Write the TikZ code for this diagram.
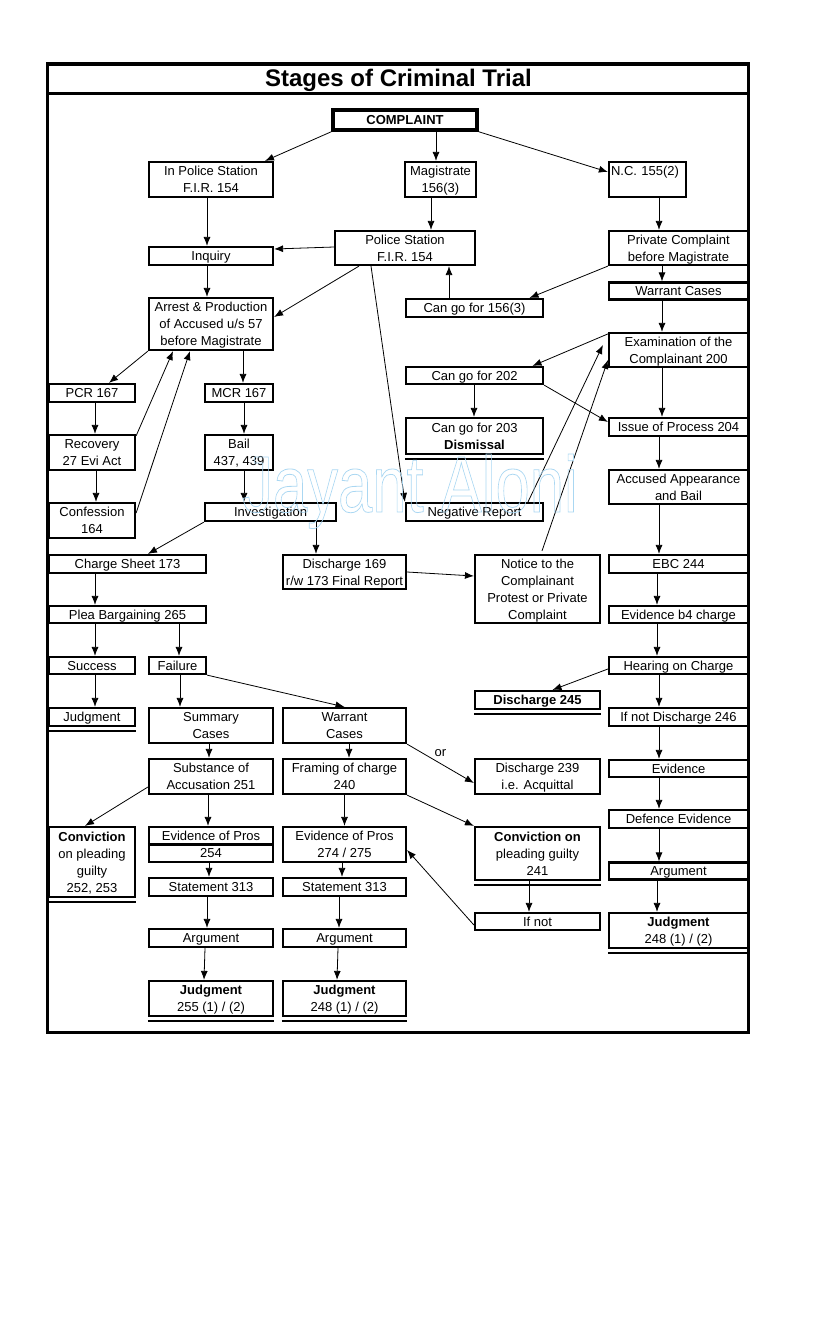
\documentclass[tikz,border=0pt]{standalone}
\usepackage{fontspec}
\setmainfont{Liberation Sans}
\usetikzlibrary{arrows.meta}

\definecolor{wmark}{RGB}{170,215,242}

\tikzset{
  box/.style={draw, line width=2.2pt, fill=white, inner sep=0pt, align=center,
    text depth=-2pt, font=\fontsize{13}{17}\selectfont},
  sz/.style 2 args={minimum width=#1pt, minimum height=#2pt},
  footline/.style={line width=2.2pt},
  arr/.style={-{Latex[length=9pt,width=7pt]}, line width=0.8pt},
}

\begin{document}
\begin{tikzpicture}[x=1pt,y=-1pt]
    \useasboundingbox (0,0) rectangle (816,1344);
    % Frame
    \draw[line width=3.2pt] (47.5,64) rectangle (748.5,1032.5);
    \draw[line width=3.2pt] (47.5,93.5) -- (748.5,93.5);
    % Text Node
    \node[font=\fontsize{24}{28}\selectfont\bfseries] (ttl) at (398.5,80) {Stages of Criminal Trial};

    % Text Node
    \node[box, line width=3.5pt, sz={144}{20}, font=\fontsize{13}{17}\selectfont\bfseries] (cmp) at (405,120) {COMPLAINT};
    % Text Node
    \node[box, sz={124}{35}] (ips) at (211,179.5) {In Police Station\\F.I.R. 154};
    % Text Node
    \node[box, sz={71}{35}] (mag) at (440.5,179.5) {Magistrate\\156(3)};
    % Text Node
    \node[box, sz={77}{35}, text width=73pt, align=left, text depth={}] (nc) at (647.5,179.5) {N.C. 155(2)\\ \mbox{}};
    % Text Node
    \node[box, sz={124}{18}] (inq) at (211,256) {Inquiry};
    % Text Node
    \node[box, sz={140}{34}] (ps) at (405,248) {Police Station\\F.I.R. 154};
    % Text Node
    \node[box, sz={139}{34}] (pc) at (678.5,248) {Private Complaint\\before Magistrate};
    % Text Node
    \node[box, sz={139}{17}] (wc) at (678.5,291) {Warrant Cases};
    % Text Node
    \node[box, sz={137}{18}] (cg156) at (474.5,308) {Can go for 156(3)};
    % Text Node
    \node[box, sz={124}{52}] (arst) at (211,324) {Arrest \& Production\\of Accused u/s 57\\before Magistrate};
    % Text Node
    \node[box, sz={139}{34}] (exam) at (678.5,350) {Examination of the\\Complainant 200};
    % Text Node
    \node[box, sz={137}{17}] (cg202) at (474.5,375.5) {Can go for 202};
    % Text Node
    \node[box, sz={86}{18}] (pcr) at (92,393) {PCR 167};
    % Text Node
    \node[box, sz={68}{18}] (mcr) at (239,393) {MCR 167};
    % Text Node
    \node[box, sz={137}{36}] (cg203) at (474.5,436) {Can go for 203\\\textbf{Dismissal}};
    % Text Node
    \node[box, sz={139}{18}] (iop) at (678.5,427) {Issue of Process 204};
    % Text Node
    \node[box, sz={86}{35}] (rec) at (92,452.5) {Recovery\\27 Evi Act};
    % Text Node
    \node[box, sz={68}{35}] (bail) at (239,452.5) {Bail\\437, 439};
    % Text Node
    \node[box, sz={139}{34}] (acc) at (678.5,487) {Accused Appearance\\and Bail};
    % Text Node
    \node[box, sz={86}{35}] (con) at (92,520.5) {Confession\\164};
    % Text Node
    \node[box, sz={131}{18}] (inv) at (270.5,512) {Investigation};
    % Text Node
    \node[box, sz={137}{18}] (neg) at (474.5,512) {Negative Report};
    % Text Node
    \node[box, sz={157}{18}] (cs) at (127.5,564) {Charge Sheet 173};
    % Text Node
    \node[box, sz={123}{34}] (d169) at (344.5,572) {Discharge 169\\r/w 173 Final Report};
    % Text Node
    \node[box, sz={125}{68}] (notice) at (537.5,589) {Notice to the\\Complainant\\Protest or Private\\Complaint};
    % Text Node
    \node[box, sz={139}{18}] (ebc) at (678.5,564) {EBC 244};
    % Text Node
    \node[box, sz={157}{17}] (pb) at (127.5,614.5) {Plea Bargaining 265};
    % Text Node
    \node[box, sz={139}{17}] (eb4) at (678.5,614.5) {Evidence b4 charge};
    % Text Node
    \node[box, sz={86}{17}] (suc) at (92,665.5) {Success};
    % Text Node
    \node[box, sz={57}{17}] (fail) at (177.5,665.5) {Failure};
    % Text Node
    \node[box, sz={139}{17}] (hoc) at (678.5,665.5) {Hearing on Charge};
    % Text Node
    \node[box, sz={125}{18}, font=\fontsize{13}{17}\selectfont\bfseries] (d245) at (537.5,700) {Discharge 245};
    % Text Node
    \node[box, sz={86}{18}] (jl) at (92,717) {Judgment};
    % Text Node
    \node[box, sz={124}{35}] (sum) at (211,725.5) {Summary\\Cases};
    % Text Node
    \node[box, sz={123}{35}] (wc2) at (344.5,725.5) {Warrant\\Cases};
    % Text Node
    \node[box, sz={139}{18}] (ind) at (678.5,717) {If not Discharge 246};
    % Text Node
    \node[box, sz={124}{35}] (sub) at (211,776.5) {Substance of\\Accusation 251};
    % Text Node
    \node[box, sz={123}{35}] (fr) at (344.5,776.5) {Framing of charge\\240};
    % Text Node
    \node[box, sz={125}{35}] (d239) at (537.5,776.5) {Discharge 239\\i.e. Acquittal};
    % Text Node
    \node[box, sz={139}{17}] (evi) at (678.5,768.5) {Evidence};
    % Text Node
    \node[box, sz={139}{18}] (def) at (678.5,819) {Defence Evidence};
    % Text Node
    \node[box, sz={86}{70}] (cv252) at (92,862) {\textbf{Conviction}\\on pleading\\guilty\\252, 253};
    % Text Node
    \node[box, sz={124}{35}] (ep254) at (211,844.5) {Evidence of Pros\\254};
    \draw[line width=2.2pt] (ep254.west) -- (ep254.east);
    % Text Node
    \node[box, sz={123}{35}] (ep274) at (344.5,844.5) {Evidence of Pros\\274 / 275};
    % Text Node
    \node[box, sz={125}{53}] (cv241) at (537.5,853.5) {\textbf{Conviction on}\\pleading guilty\\241};
    % Text Node
    \node[box, sz={139}{17}] (argr) at (678.5,871) {Argument};
    % Text Node
    \node[box, sz={124}{18}] (st1) at (211,887) {Statement 313};
    % Text Node
    \node[box, sz={123}{18}] (st2) at (344.5,887) {Statement 313};
    % Text Node
    \node[box, sz={125}{17}] (ifn) at (537.5,921.5) {If not};
    % Text Node
    \node[box, sz={139}{35}] (jr) at (678.5,930.5) {\textbf{Judgment}\\248 (1) / (2)};
    % Text Node
    \node[box, sz={124}{18}] (ag1) at (211,938) {Argument};
    % Text Node
    \node[box, sz={123}{18}] (ag2) at (344.5,938) {Argument};
    % Text Node
    \node[box, sz={124}{35}] (j1) at (211,998.5) {\textbf{Judgment}\\255 (1) / (2)};
    % Text Node
    \node[box, sz={123}{35}] (j2) at (344.5,998.5) {\textbf{Judgment}\\248 (1) / (2)};

    % double bottom rule under the closing boxes
    \foreach \n in {cg203,d245,jl,cv252,cv241,jr,j1,j2}
        \draw[footline] ([yshift=-3.8pt]\n.south west) -- ([yshift=-3.8pt]\n.south east);

    % Connectors
    \draw[arr] (cmp.south west) -- ([xshift=54pt]ips.north);
    \draw[arr] ([xshift=31pt]cmp.south) -- ([xshift=31pt]cmp.south |- mag.north);
    \draw[arr] (cmp.south east) -- ([yshift=7.5pt]nc.west);
    \draw[arr] ([xshift=-4pt]ips.south) -- ([xshift=-4pt]ips.south |- inq.north);
    \draw[arr] ([yshift=1pt]ps.west) -- ([yshift=7pt]inq.east);
    \draw[arr] ([xshift=-9.5pt]mag.south) -- ([xshift=-9.5pt]mag.south |- ps.north);
    \draw[arr] ([xshift=11.5pt]nc.south) -- ([xshift=11.5pt]nc.south |- pc.north);
    \draw[arr] (pc.south west) -- ([xshift=55pt]cg156.north);
    \draw[arr] ([xshift=-25.5pt]cg156.north) -- ([xshift=-25.5pt]cg156.north |- ps.south);
    \draw[arr] ([xshift=-16.5pt]pc.south) -- ([xshift=-16.5pt]pc.south |- wc.north);
    \draw[arr] ([xshift=-16.5pt]wc.south) -- ([xshift=-16.5pt]wc.south |- exam.north);
    \draw[arr] ([xshift=-4pt]inq.south) -- ([xshift=-4pt]inq.south |- arst.north);
    \draw[arr] ([xshift=-46pt]ps.south) -- ([yshift=7pt]arst.east);
    \draw[arr] ([xshift=-34pt]ps.south) -- (neg.north west);
    \draw[arr] (arst.south west) -- ([xshift=17pt]pcr.north);
    \draw[arr] ([xshift=32pt]arst.south) -- ([xshift=32pt]arst.south |- mcr.north);
    \draw[arr] ([yshift=-2pt]rec.north east) -- ([xshift=-38pt]arst.south);
    \draw[arr] ([yshift=7.5pt]con.east) -- ([xshift=-21pt]arst.south);
    \draw[arr] ([xshift=3pt]pcr.south) -- ([xshift=3pt]pcr.south |- rec.north);
    \draw[arr] ([xshift=4pt]rec.south) -- ([xshift=4pt]rec.south |- con.north);
    \draw[arr] ([xshift=5pt]mcr.south) -- ([xshift=5pt]mcr.south |- bail.north);
    \draw[arr] ([xshift=5pt]bail.south) -- ([xshift=5pt]bail.south |- inv.north);
    \draw[arr] (inv.south west) -- ([xshift=20.5pt]cs.north);
    \draw[arr] ([xshift=45.5pt]inv.south) -- ([xshift=45.5pt]inv.south |- d169.north);
    \draw[arr] (d169.east) -- ([yshift=13pt]notice.west);
    \draw[arr] ([xshift=53.5pt]neg.north) -- ([xshift=-5pt,yshift=5pt]exam.west);
    \draw[arr] ([xshift=4.5pt,yshift=3pt]notice.north) -- ([yshift=-10pt]exam.west);
    \draw[arr] ([yshift=-2pt]exam.north west) -- ([xshift=58pt]cg202.north);
    \draw[arr] ([xshift=-0.5pt]cg202.south) -- ([xshift=-0.5pt]cg202.south |- cg203.north);
    \draw[arr] (cg202.south east) -- ([yshift=5pt]iop.west);
    \draw[arr] ([xshift=-16.5pt]exam.south) -- ([xshift=-16.5pt]exam.south |- iop.north);
    \draw[arr] ([xshift=-19.5pt]iop.south) -- ([xshift=-19.5pt]iop.south |- acc.north);
    \draw[arr] ([xshift=-19.5pt]acc.south) -- ([xshift=-19.5pt]acc.south |- ebc.north);
    \draw[arr] ([xshift=-21.5pt]ebc.south) -- ([xshift=-21.5pt]ebc.south |- eb4.north);
    \draw[arr] ([xshift=-21.5pt]eb4.south) -- ([xshift=-21.5pt]eb4.south |- hoc.north);
    \draw[arr] ([yshift=-3.5pt]hoc.west) -- ([xshift=15pt]d245.north);
    \draw[arr] ([xshift=-19.5pt]hoc.south) -- ([xshift=-19.5pt]hoc.south |- ind.north);
    \draw[arr] ([xshift=-19.5pt]ind.south) -- ([xshift=-19.5pt]ind.south |- evi.north);
    \draw[arr] ([xshift=-19.5pt]evi.south) -- ([xshift=-19.5pt]evi.south |- def.north);
    \draw[arr] ([xshift=-19.5pt]def.south) -- ([xshift=-19.5pt]def.south |- argr.north);
    \draw[arr] ([xshift=-21.5pt]argr.south) -- ([xshift=-21.5pt]argr.south |- jr.north);
    \draw[arr] ([xshift=-32.5pt]cs.south) -- ([xshift=-32.5pt]cs.south |- pb.north);
    \draw[arr] ([xshift=-32.5pt]pb.south) -- ([xshift=-32.5pt]pb.south |- suc.north);
    \draw[arr] ([xshift=51.5pt]pb.south) -- ([xshift=51.5pt]pb.south |- fail.north);
    \draw[arr] ([xshift=3pt]suc.south) -- ([xshift=3pt]suc.south |- jl.north);
    \draw[arr] ([xshift=2.5pt]fail.south) -- ([xshift=2.5pt]fail.south |- sum.north);
    \draw[arr] (fail.south east) -- (wc2.north);
    \draw[arr] ([xshift=-2pt]sum.south) -- ([xshift=-2pt]sum.south |- sub.north);
    \draw[arr] ([xshift=4.5pt]wc2.south) -- ([xshift=4.5pt]wc2.south |- fr.north);
    \draw[arr] (wc2.south east) -- ([yshift=-6.5pt]d239.west)
        node[midway, above=3pt, font=\fontsize{13}{17}\selectfont] (orl) {or};
    \draw[arr] ([yshift=-10.5pt]sub.west) -- ([xshift=-7pt]cv252.north);
    \draw[arr] ([xshift=-3pt]sub.south) -- ([xshift=-3pt]sub.south |- ep254.north);
    \draw[arr] (fr.south) -- (fr.south |- ep274.north);
    \draw[arr] (fr.south east) -- (cv241.north west);
    \draw[arr] ([xshift=-2pt]ep254.south) -- ([xshift=-2pt]ep254.south |- st1.north);
    \draw[arr] ([xshift=-2.5pt]ep274.south) -- ([xshift=-2.5pt]ep274.south |- st2.north);
    \draw[arr] ([xshift=-4pt]st1.south) -- ([xshift=-4pt]st1.south |- ag1.north);
    \draw[arr] ([xshift=-5.5pt]st2.south) -- ([xshift=-5.5pt]st2.south |- ag2.north);
    \draw[arr] ([xshift=-6pt]ag1.south) -- ([xshift=-7pt]j1.north);
    \draw[arr] ([xshift=-6.5pt]ag2.south) -- ([xshift=-7.5pt]j2.north);
    \draw[arr] ([xshift=-8.5pt]cv241.south) -- ([xshift=-8.5pt]cv241.south |- ifn.north);
    \draw[arr] ([yshift=-3.5pt]ifn.west) -- ([yshift=-5.5pt]ep274.east);

    % Watermark
    \node[text=wmark, font=\fontsize{80}{80}\selectfont, anchor=base, xscale=0.77, transform shape] (wm) at (410,512)
        {\special{pdf:literal direct 1 Tr 0.8 w}Jayant Aloni\special{pdf:literal direct 0 Tr}};
\end{tikzpicture}
\end{document}
